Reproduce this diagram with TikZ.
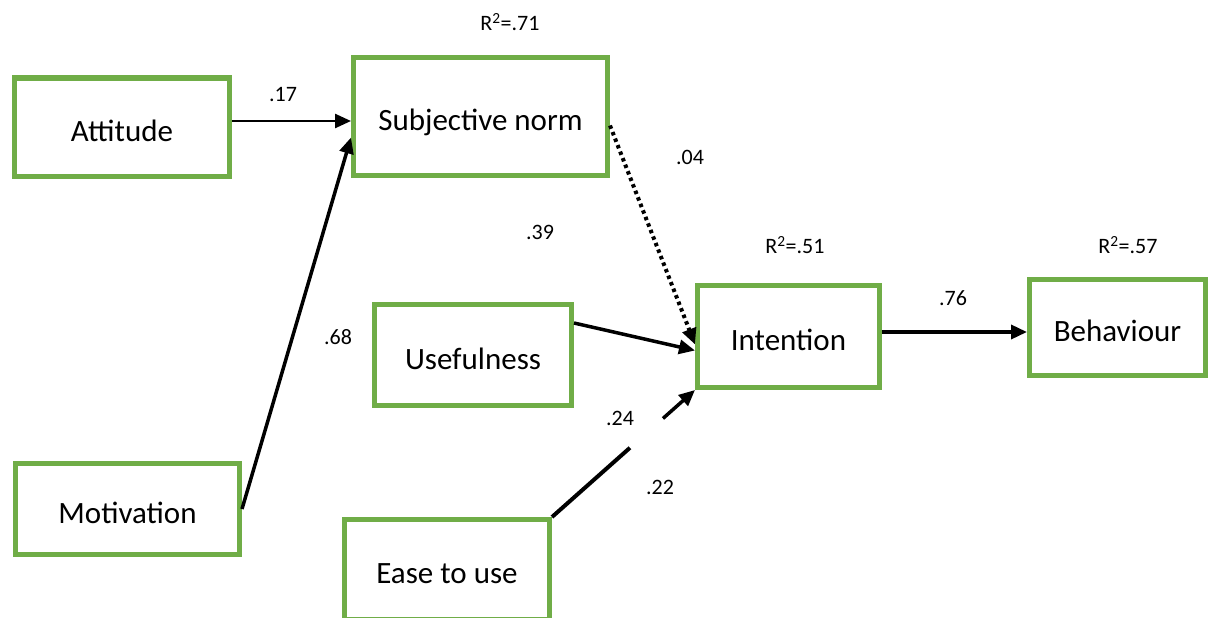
\documentclass[tikz,border=0pt]{standalone}
\usepackage{fontspec}
\setmainfont{Carlito}
\usetikzlibrary{arrows.meta}

\definecolor{boxgreen}{HTML}{70AD47}

\tikzset{
  construct/.style={draw=boxgreen, line width=5pt, fill=white, rectangle,
    inner sep=0pt, text height=28pt, text depth=0pt,
    font=\fontsize{31}{36}\selectfont},
  coef/.style={inner sep=0pt, font=\fontsize{22}{26}\selectfont},
  path/.style={draw=black, line width=3.5pt,
    -{Triangle[length=16pt,width=14pt]}},
  weakpath/.style={draw=black, line width=4pt, dash pattern=on 3.5pt off 3.5pt,
    -{Triangle[length=16pt,width=14pt]}},
}

\begin{document}
\begin{tikzpicture}[x=1pt, y=-1pt]
  \useasboundingbox (0,0) rectangle (1210,618);

  % constructs (shape size = outer size minus line width)
  \node[construct, minimum width=215pt, minimum height=98pt]  (att)  at (122,127)    {Attitude};
  \node[construct, minimum width=254pt, minimum height=118pt] (subj) at (480.5,116.5) {Subjective norm};
  \node[construct, minimum width=224pt, minimum height=91pt]  (mot)  at (127.5,509)  {Motivation};
  \node[construct, minimum width=197pt, minimum height=101pt] (use)  at (473,355)    {Usefulness};
  \node[construct, minimum width=205pt, minimum height=100pt] (ease) at (447,569.5)  {Ease to use};
  \node[construct, minimum width=182pt, minimum height=102pt] (int)  at (788.5,336.5) {Intention};
  \node[construct, minimum width=176pt, minimum height=96pt]  (beh)  at (1117.5,327.5) {Behaviour};

  % path coefficients and explained variance
  \node[coef] (c17)  at (283,95)   {.17};
  \node[coef] (r71)  at (510,22)   {R\textsuperscript{2}=.71};
  \node[coef] (c04)  at (690,157)  {.04};
  \node[coef] (c39)  at (540,232)  {.39};
  \node[coef] (r51)  at (795,245)  {R\textsuperscript{2}=.51};
  \node[coef] (r57)  at (1128,245) {R\textsuperscript{2}=.57};
  \node[coef] (c68)  at (338,337)  {.68};
  \node[coef] (c76)  at (953,298)  {.76};
  \node[coef] (c24)  at (620,418)  {.24};
  \node[coef] (c22)  at (660,487)  {.22};

  % structural paths
  \draw[path, line width=2.5pt] ([yshift=6pt]att.east) -- ([yshift=6pt]att.east -| subj.west);
  \draw[path] (mot.east) -- ([yshift=-21pt]subj.west);
  \draw[weakpath] ([yshift=-9pt]subj.east) -- ([yshift=-8pt]int.west);
  \draw[path] ([yshift=-21pt]use.north east) -- ([yshift=-14pt]int.west);
  \path (ease.north east) -- (int.south west)
    coordinate[pos=0.545] (gapA) coordinate[pos=0.776] (gapB);
  \draw[line width=4pt] (ease.north east) -- (gapA);
  \draw[path] (gapB) -- (int.south west);
  \draw[path] ([yshift=4.5pt]int.east) -- ([yshift=4.5pt]int.east -| beh.west);
\end{tikzpicture}
\end{document}
